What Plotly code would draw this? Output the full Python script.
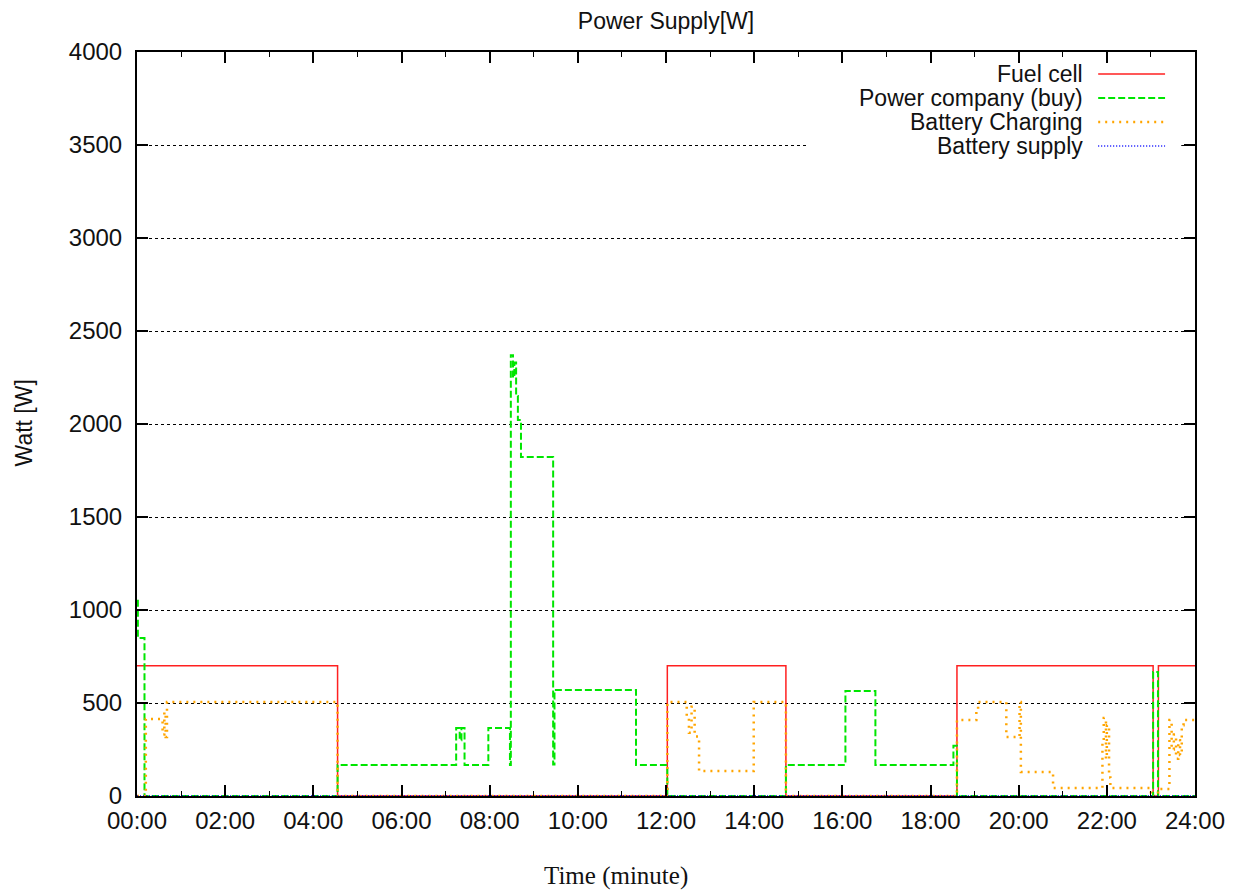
import plotly.graph_objects as go

# time in hours of the day, values in W (step data)
fuel_t = [0, 4.55, 12.03, 14.72, 18.60, 23.05, 23.17, 24]
fuel_w = [700, 0, 700, 0, 700, 0, 700, 700]

buy_t = [0, 0.02, 0.17, 4.55, 7.24, 7.32, 7.36, 7.43, 7.97, 8.46, 8.48, 8.53, 8.56, 8.60,
         8.64, 8.71, 9.44, 9.47, 11.32, 12.03, 14.72, 16.07, 16.75, 18.52, 18.60, 23.05,
         23.16, 24]
buy_w = [1050, 849, 0, 167, 366, 300, 366, 167, 366, 167, 2370, 2250, 2330, 2150,
         2022, 1823, 170, 570, 167, 0, 167, 565, 167, 270, 0, 667,
         0, 0]

chg_t = [0, 0.20, 0.58, 0.62, 0.65, 0.68, 4.55, 12.03, 12.47, 12.52, 12.58, 12.65, 12.75,
         13.99, 14.72, 18.60, 19.04, 19.08, 19.72, 20.02, 20.05, 20.78, 21.90, 21.93, 21.98,
         22.00, 22.05, 22.08, 23.00, 23.16, 23.42, 23.47, 23.52, 23.57, 23.62, 23.66, 23.70,
         23.74, 24]
chg_w = [0, 414, 330, 450, 317, 505, 0, 505, 420, 340, 480, 320, 134,
         505, 0, 409, 460, 505, 317, 505, 129, 43, 300, 420, 200,
         380, 100, 43, 0, 38, 409, 250, 330, 200, 300, 220, 380,
         409, 409]

sup_t = [0, 24]
sup_w = [0, 0]

hour_ticks = list(range(0, 25, 2))
hour_labels = ["%02d:00" % h for h in hour_ticks]

legend_names = ["Fuel cell", "Power company (buy)", "Battery Charging", "Battery supply"]
colors = ["#ff2020", "#00e600", "#ffa500", "#0000ff"]
dashes = ["solid", "7px,3px", "2px,5px", "1px,2px"]
widths = [1.5, 2, 2.5, 1.5]

series = [(fuel_t, fuel_w), (buy_t, buy_w), (chg_t, chg_w), (sup_t, sup_w)]

fig = go.Figure()
for (t, w), name, c, d, lw in zip(series, legend_names, colors, dashes, widths):
    fig.add_trace(go.Scatter(x=t, y=w, name=name, mode='lines', line_shape='hv',
                             line=dict(color=c, dash=d, width=lw), showlegend=False))

font = "Liberation Sans, Arial, sans-serif"

# gnuplot-style key: text right aligned, sample line on the right
# white strip hides the 3500 grid line behind the key
shapes = [dict(type='rect', xref='paper', yref='y', x0=0.633, x1=0.987, y0=3450, y1=3550,
               fillcolor='white', line=dict(width=0), layer='above')]
annotations = []
row_y = [0.9704, 0.9382, 0.9059, 0.8737]
for name, c, d, lw, yy in zip(legend_names, colors, dashes, widths, row_y):
    annotations.append(dict(text=name, xref='paper', yref='paper', x=0.896, y=yy,
                            xanchor='right', yanchor='middle', showarrow=False,
                            font=dict(family=font, size=23, color='#111')))
    shapes.append(dict(type='line', xref='paper', yref='paper', x0=0.9085, x1=0.9717,
                       y0=yy, y1=yy, line=dict(color=c, dash=d, width=lw)))

annotations.append(dict(text="Watt [W]", xref='paper', yref='paper', x=-0.1066, y=0.501,
                        textangle=-90, showarrow=False, xanchor='center', yanchor='middle',
                        font=dict(family=font, size=23, color='#111')))
annotations.append(dict(text="Time (minute)", xref='paper', yref='paper', x=0.453, y=-0.1075,
                        showarrow=False, xanchor='center', yanchor='middle',
                        font=dict(family="Liberation Serif, Times New Roman, serif", size=25,
                                  color='#111')))

fig.update_layout(
    title=dict(text="Power Supply[W]", x=0.5, xref='paper', xanchor='center',
               y=1 - 5 / 882, yanchor='top', pad=dict(t=0),
               font=dict(family=font, size=23, color='#111')),
    width=1229, height=882,
    margin=dict(l=129, r=40, t=44, b=94),
    plot_bgcolor='white', paper_bgcolor='white',
    shapes=shapes, annotations=annotations,
    xaxis=dict(range=[0, 24], tickvals=hour_ticks, ticktext=hour_labels,
               ticks='inside', ticklen=11, tickwidth=1.5, tickcolor='black',
               minor=dict(dtick=1, ticks='inside', ticklen=5, tickcolor='black', tickwidth=1,
                          showgrid=False),
               showline=True, linewidth=2, linecolor='black', mirror='ticks',
               showgrid=False, zeroline=False, ticklabelstandoff=2,
               tickfont=dict(family=font, size=24, color='#111')),
    yaxis=dict(range=[0, 4000], dtick=500, ticks='inside', ticklen=11, tickwidth=1.5,
               tickcolor='black', showline=True, linewidth=2, linecolor='black',
               mirror='ticks', showgrid=True, gridcolor='black', gridwidth=1,
               griddash='dot', zeroline=False, ticklabelstandoff=8,
               tickfont=dict(family=font, size=24, color='#111')),
)

fig.write_html("out.html")
